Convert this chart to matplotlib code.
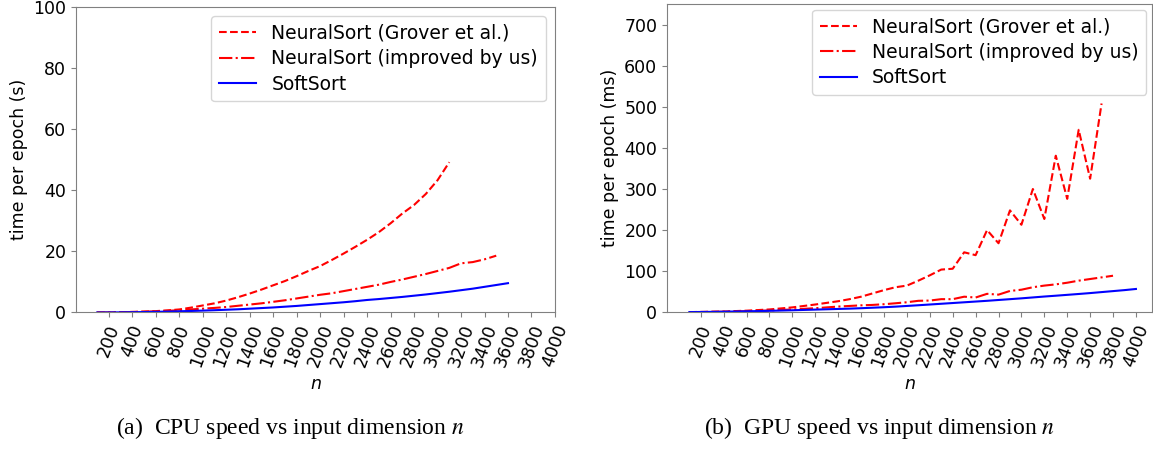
import numpy as np
import matplotlib
matplotlib.use("Agg")
import matplotlib.pyplot as plt

# input dimension n
n_cpu_grover = list(range(100, 3200, 100))
n_cpu_ours = list(range(100, 3600, 100))
n_cpu_soft = list(range(100, 3700, 100))
n_gpu_grover = list(range(100, 3800, 100))
n_gpu_ours = list(range(100, 3900, 100))
n_gpu_soft = list(range(100, 4100, 100))

# CPU time per epoch (s)
cpu_grover = [0.02, 0.05, 0.1, 0.2, 0.3, 0.45, 0.7, 1.0, 1.6, 2.3,
              3.0, 3.9, 5.0, 6.2, 7.5, 8.9, 10.3, 11.9, 13.6, 15.2,
              17.2, 19.3, 21.5, 23.8, 26.3, 29.2, 32.4, 35.2, 38.8, 43.3,
              49.2]
cpu_ours = [0.02, 0.04, 0.08, 0.15, 0.25, 0.4, 0.55, 0.75, 1.0, 1.25,
            1.5, 1.8, 2.2, 2.6, 3.0, 3.5, 4.0, 4.6, 5.2, 5.8,
            6.3, 7.0, 7.7, 8.4, 9.1, 10.0, 10.8, 11.7, 12.6, 13.6,
            14.6, 16.1, 16.5, 17.4, 18.6]
cpu_soft = [0.01, 0.03, 0.06, 0.1, 0.15, 0.22, 0.3, 0.4, 0.5, 0.62,
            0.75, 0.9, 1.05, 1.25, 1.45, 1.65, 1.9, 2.15, 2.45, 2.75,
            3.05, 3.35, 3.7, 4.1, 4.4, 4.75, 5.1, 5.5, 5.9, 6.35,
            6.8, 7.3, 7.8, 8.4, 9.0, 9.6]

# GPU time per epoch (ms)
gpu_grover = [0.5, 1, 1.5, 2, 3, 4, 5.5, 7, 9.5, 12,
              15.5, 19, 23, 27, 32, 38, 46, 54, 61, 65,
              77, 90, 104, 106, 146, 139, 200, 168, 248, 213,
              300, 227, 381, 276, 444, 325, 508]
gpu_ours = [0.3, 0.6, 1, 1.5, 2, 2.8, 3.6, 4.6, 5.8, 7,
            8.5, 10, 12, 14, 15.5, 17, 18, 19.7, 22, 24.5,
            28, 28.6, 32, 32, 38, 36, 45, 43, 52, 55,
            61, 65, 68, 72, 77, 81, 85, 89]
gpu_soft = [0.5, 0.8, 1.1, 1.5, 2.0, 2.5, 3.0, 3.6, 4.3, 5.0,
            5.8, 6.6, 7.4, 8.2, 9.0, 10.0, 11.2, 12.4, 13.8, 15.5,
            17.2, 19.0, 20.8, 22.6, 24.4, 26.2, 28.0, 30.0, 32.0, 34.0,
            36.2, 38.4, 40.4, 42.5, 44.6, 46.8, 49.2, 51.6, 54.0, 56.8]

xticks = list(range(200, 4001, 200))
labels = ["NeuralSort (Grover et al.)", "NeuralSort (improved by us)", "SoftSort"]

plt.rcParams['font.size'] = 12.5
plt.rcParams['axes.edgecolor'] = '0.5'
plt.rcParams['xtick.color'] = '0.5'
plt.rcParams['ytick.color'] = '0.5'
plt.rcParams['xtick.labelcolor'] = 'black'
plt.rcParams['ytick.labelcolor'] = 'black'

fig = plt.figure(figsize=(11.53, 4.51), dpi=100)
ax1 = fig.add_axes([0.0659, 0.3071, 0.4154, 0.6774])
ax2 = fig.add_axes([0.5785, 0.3075, 0.4206, 0.6836])


def draw(ax, n1, y1, n2, y2, n3, y3, ylabel, pad):
    ax.plot(n1, y1, 'r--', label=labels[0])
    ax.plot(n2, y2, 'r-.', label=labels[1])
    ax.plot(n3, y3, 'b-', label=labels[2])
    ax.set_xticks(xticks)
    ax.set_xticklabels([str(t) for t in xticks], rotation=70)
    ax.set_xlabel('$n$')
    ax.set_ylabel(ylabel)
    ax.legend(loc='upper right', fontsize=13.5, labelspacing=0.35,
              borderaxespad=pad)


draw(ax1, n_cpu_grover, cpu_grover, n_cpu_ours, cpu_ours,
     n_cpu_soft, cpu_soft, 'time per epoch (s)', 0.5)
ax1.set_xlim(-80, 4000)
ax1.set_ylim(0, 100)

draw(ax2, n_gpu_grover, gpu_grover, n_gpu_ours, gpu_ours,
     n_gpu_soft, gpu_soft, 'time per epoch (ms)', 0.3)
ax2.set_xlim(-95, 4140)
ax2.set_ylim(0, 750)

cap = dict(fontsize=17, family='Liberation Serif', math_fontfamily='stix',
           ha='center', va='center')
fig.text(290 / 1153, 1 - 428 / 451, '(a)  CPU speed vs input dimension $n$', **cap)
fig.text(880 / 1153, 1 - 428 / 451, '(b)  GPU speed vs input dimension $n$', **cap)

fig.savefig('out.png', dpi=100)
